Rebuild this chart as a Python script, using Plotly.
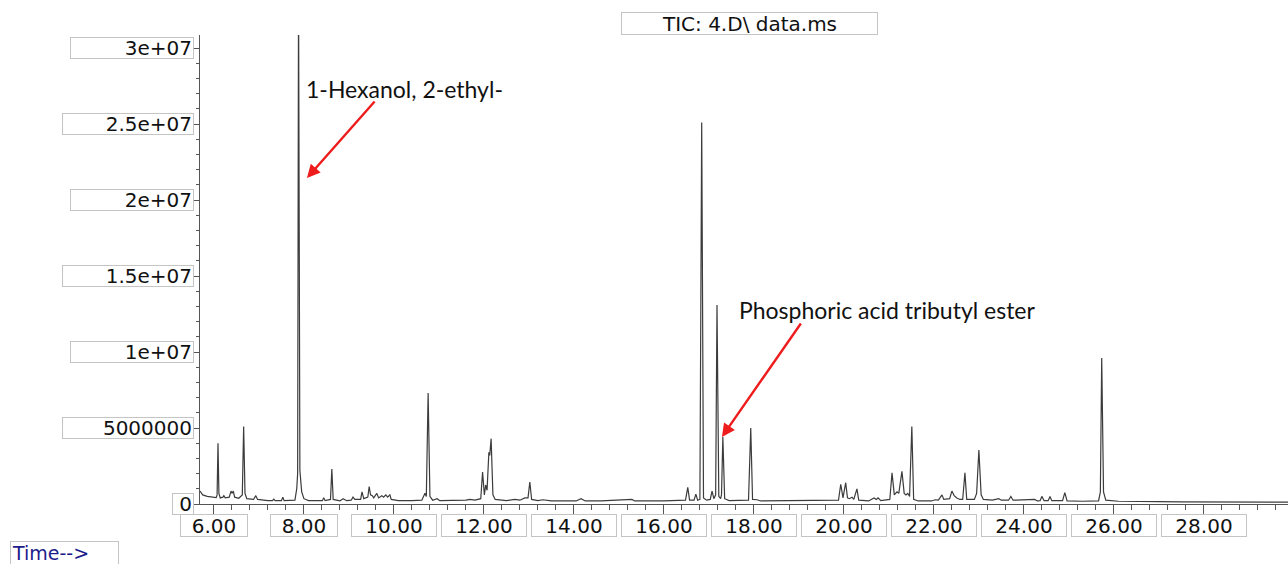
import plotly.graph_objects as go

# Total ion chromatogram: retention time (min) vs. abundance
retention_time = [
    5.69, 5.75, 5.85, 5.95, 6.05, 6.07, 6.09, 6.11, 6.14, 6.20, 6.22, 6.25,
    6.34, 6.38, 6.40, 6.43, 6.46, 6.55, 6.63, 6.66, 6.69, 6.73, 6.88, 6.93,
    6.97, 7.20, 7.30, 7.33, 7.36, 7.50, 7.53, 7.56, 7.80, 7.84, 7.86, 7.88,
    7.91, 7.95, 8.00, 8.10, 8.41, 8.44, 8.47, 8.59, 8.62, 8.65, 8.80, 8.87,
    8.95, 9.05, 9.09, 9.13, 9.26, 9.29, 9.33, 9.42, 9.45, 9.48, 9.52, 9.55,
    9.62, 9.66, 9.73, 9.77, 9.82, 9.86, 9.91, 9.94, 10.10, 10.40, 10.62, 10.69,
    10.72, 10.76, 10.80, 10.86, 10.96, 11.02, 11.40, 11.60, 11.69, 11.80, 11.93, 11.97,
    12.01, 12.04, 12.07, 12.11, 12.13, 12.16, 12.20, 12.25, 12.50, 12.69, 12.80, 12.91,
    12.98, 13.02, 13.06, 13.20, 13.31, 13.50, 14.05, 14.16, 14.25, 14.60, 15.29, 15.35,
    16.00, 16.48, 16.53, 16.57, 16.67, 16.71, 16.75, 16.80, 16.84, 16.88, 16.95, 17.03,
    17.07, 17.11, 17.15, 17.18, 17.22, 17.26, 17.28, 17.31, 17.35, 17.45, 17.88, 17.93,
    17.97, 18.07, 18.15, 19.24, 19.30, 19.88, 19.93, 19.98, 20.04, 20.08, 20.12, 20.18,
    20.22, 20.29, 20.33, 20.55, 20.67, 20.72, 20.76, 20.82, 21.02, 21.07, 21.12, 21.18,
    21.22, 21.29, 21.34, 21.38, 21.42, 21.46, 21.51, 21.55, 21.65, 21.95, 22.03, 22.10,
    22.18, 22.22, 22.35, 22.40, 22.45, 22.51, 22.58, 22.64, 22.69, 22.73, 22.90, 22.95,
    23.00, 23.05, 23.10, 23.30, 23.44, 23.50, 23.66, 23.71, 23.76, 24.24, 24.30, 24.36,
    24.40, 24.45, 24.54, 24.58, 24.62, 24.86, 24.91, 24.96, 25.30, 25.66, 25.70, 25.73,
    25.77, 25.82, 26.10, 26.50, 27.00, 27.50, 28.00, 28.50, 29.00, 29.50, 29.87,
]
abundance = [
    0.85e6, 0.60e6, 0.50e6, 0.45e6, 0.42e6, 0.60e6, 4.00e6, 0.70e6, 0.40e6, 0.45e6, 0.55e6, 0.40e6,
    0.45e6, 0.85e6, 0.70e6, 0.85e6, 0.45e6, 0.38e6, 0.60e6, 5.10e6, 0.70e6, 0.35e6, 0.30e6, 0.55e6,
    0.30e6, 0.22e6, 0.22e6, 0.32e6, 0.22e6, 0.22e6, 0.45e6, 0.22e6, 0.25e6, 1.00e6, 2.00e6, 3.40e7,
    2.20e6, 0.80e6, 0.35e6, 0.22e6, 0.22e6, 0.42e6, 0.22e6, 0.30e6, 2.30e6, 0.30e6, 0.20e6, 0.35e6,
    0.22e6, 0.25e6, 0.45e6, 0.30e6, 0.30e6, 0.80e6, 0.35e6, 0.45e6, 1.15e6, 0.60e6, 0.55e6, 0.40e6,
    0.70e6, 0.40e6, 0.55e6, 0.45e6, 0.60e6, 0.45e6, 0.60e6, 0.30e6, 0.22e6, 0.22e6, 0.25e6, 0.70e6,
    0.50e6, 7.30e6, 0.50e6, 0.25e6, 0.35e6, 0.22e6, 0.22e6, 0.25e6, 0.30e6, 0.25e6, 0.35e6, 2.10e6,
    0.60e6, 1.25e6, 0.90e6, 3.40e6, 3.20e6, 4.30e6, 0.60e6, 0.30e6, 0.22e6, 0.30e6, 0.25e6, 0.40e6,
    0.40e6, 1.45e6, 0.30e6, 0.22e6, 0.28e6, 0.20e6, 0.20e6, 0.35e6, 0.20e6, 0.20e6, 0.30e6, 0.20e6,
    0.20e6, 0.25e6, 1.10e6, 0.25e6, 0.25e6, 0.65e6, 0.25e6, 0.30e6, 2.51e7, 0.40e6, 0.25e6, 0.30e6,
    0.85e6, 0.35e6, 0.60e6, 1.31e7, 0.50e6, 0.35e6, 0.60e6, 4.40e6, 0.35e6, 0.22e6, 0.25e6, 5.00e6,
    0.30e6, 0.28e6, 0.20e6, 0.22e6, 0.20e6, 0.25e6, 1.30e6, 0.40e6, 1.40e6, 0.40e6, 0.35e6, 0.45e6,
    0.30e6, 1.00e6, 0.25e6, 0.20e6, 0.40e6, 0.30e6, 0.40e6, 0.22e6, 0.30e6, 2.05e6, 0.60e6, 0.80e6,
    0.70e6, 2.15e6, 0.70e6, 0.60e6, 0.70e6, 0.50e6, 5.10e6, 0.30e6, 0.20e6, 0.20e6, 0.28e6, 0.25e6,
    0.60e6, 0.30e6, 0.35e6, 0.85e6, 0.55e6, 0.40e6, 0.30e6, 0.30e6, 2.05e6, 0.30e6, 0.30e6, 0.70e6,
    3.55e6, 0.60e6, 0.30e6, 0.25e6, 0.35e6, 0.25e6, 0.25e6, 0.50e6, 0.25e6, 0.30e6, 0.20e6, 0.22e6,
    0.50e6, 0.22e6, 0.22e6, 0.50e6, 0.22e6, 0.22e6, 0.75e6, 0.20e6, 0.18e6, 0.20e6, 0.80e6, 9.60e6,
    0.80e6, 0.25e6, 0.18e6, 0.15e6, 0.15e6, 0.14e6, 0.14e6, 0.13e6, 0.12e6, 0.12e6, 0.12e6,
]

x_tick_values = [6, 8, 10, 12, 14, 16, 18, 20, 22, 24, 26, 28]
x_tick_labels = ["6.00", "8.00", "10.00", "12.00", "14.00", "16.00",
                 "18.00", "20.00", "22.00", "24.00", "26.00", "28.00"]
y_tick_values = [0, 5e6, 1e7, 1.5e7, 2e7, 2.5e7, 3e7]
y_tick_labels = ["0", "5000000", "1e+07", "1.5e+07", "2e+07", "2.5e+07", "3e+07"]

peak_names = ["1-Hexanol, 2-ethyl-", "Phosphoric acid tributyl ester"]

X_RANGE = [5.69, 29.87]
Y_RANGE = [0, 3.086e7]

AXIS_COLOR = "#555555"
BOX_COLOR = "#c4c4c4"
LABEL_FONT = dict(family="DejaVu Sans", size=20, color="#111111")
NOTE_FONT = dict(family="Lato", size=23, color="#111111")

fig = go.Figure()
fig.add_trace(go.Scatter(
    x=retention_time, y=abundance, mode="lines",
    line=dict(color="#3c3c3c", width=1.2),
    hoverinfo="x+y", showlegend=False,
))

annotations = []

# Boxed y tick labels
for val, lab in zip(y_tick_values, y_tick_labels):
    w = 18 if lab == "0" else (128 if len(lab) == 7 else 120)
    annotations.append(dict(
        x=0, xref="paper", y=val, yref="y", text=lab, showarrow=False,
        xanchor="right", yanchor="middle", xshift=-6, align="right",
        width=w, height=18, font=LABEL_FONT,
        bordercolor=BOX_COLOR, borderwidth=1, borderpad=1, bgcolor="white",
    ))

# Boxed x tick labels
for val, lab in zip(x_tick_values, x_tick_labels):
    w = 64 if len(lab) == 4 else 82
    annotations.append(dict(
        x=val, xref="x", y=0, yref="paper", text=lab, showarrow=False,
        xanchor="center", yanchor="top", yshift=-10, align="center",
        width=w, height=19, font=LABEL_FONT,
        bordercolor=BOX_COLOR, borderwidth=1, borderpad=1, bgcolor="white",
    ))

# Title box
annotations.append(dict(
    x=0.5055, xref="paper", y=1.0235, yref="paper",
    text="TIC: 4.D\\ data.ms", showarrow=False,
    xanchor="center", yanchor="middle", width=253, height=19,
    font=LABEL_FONT, bordercolor=BOX_COLOR, borderwidth=1, borderpad=1,
    bgcolor="white",
))

# Axis caption
annotations.append(dict(
    x=-0.1746, xref="paper", y=-0.104, yref="paper",
    text="Time-->", showarrow=False,
    xanchor="left", yanchor="middle", width=105, height=20, align="left",
    font=dict(family="DejaVu Sans", size=19, color="#1c1c8c"),
    bordercolor=BOX_COLOR, borderwidth=1, borderpad=1, bgcolor="white",
))

# Compound labels with red arrows
note_pos = [(8.0, 2.73e7), (17.62, 1.276e7)]
arrow_tip = [(8.067, 2.145e7), (17.289, 4.41e6)]
arrow_off = [(69, -78), (80, -115)]
for name, (tx, ty), (ax_, ay_), (ox, oy) in zip(peak_names, note_pos, arrow_tip, arrow_off):
    annotations.append(dict(
        x=tx, xref="x", y=ty, yref="y", text=name, showarrow=False,
        xanchor="left", yanchor="middle", font=NOTE_FONT,
    ))
    annotations.append(dict(
        x=ax_, xref="x", y=ay_, yref="y", text="", showarrow=True,
        ax=ox, ay=oy, arrowhead=2, arrowsize=1.1, arrowwidth=2.4,
        arrowcolor="#ee1c1c", standoff=0,
    ))

fig.update_layout(
    width=1288, height=564,
    margin=dict(l=200, r=0, t=35, b=60),
    paper_bgcolor="white", plot_bgcolor="white",
    annotations=annotations,
    xaxis=dict(
        range=X_RANGE, showgrid=False, zeroline=False,
        showline=True, linecolor=AXIS_COLOR, linewidth=1.2,
        ticks="outside", tickmode="array", tickvals=x_tick_values,
        ticklen=10, tickcolor=AXIS_COLOR, tickwidth=1.2,
        showticklabels=False,
        minor=dict(tick0=6, dtick=0.4, ticks="outside", ticklen=5,
                   tickcolor=AXIS_COLOR, tickwidth=1),
    ),
    yaxis=dict(
        range=Y_RANGE, showgrid=False, zeroline=False,
        showline=True, linecolor=AXIS_COLOR, linewidth=1.2,
        ticks="outside", tickmode="array", tickvals=y_tick_values,
        ticklen=5, tickcolor=AXIS_COLOR, tickwidth=1.2,
        showticklabels=False,
        minor=dict(tick0=0, dtick=1e6, ticks="outside", ticklen=3,
                   tickcolor=AXIS_COLOR, tickwidth=1),
    ),
)

fig.write_html("out.html")
